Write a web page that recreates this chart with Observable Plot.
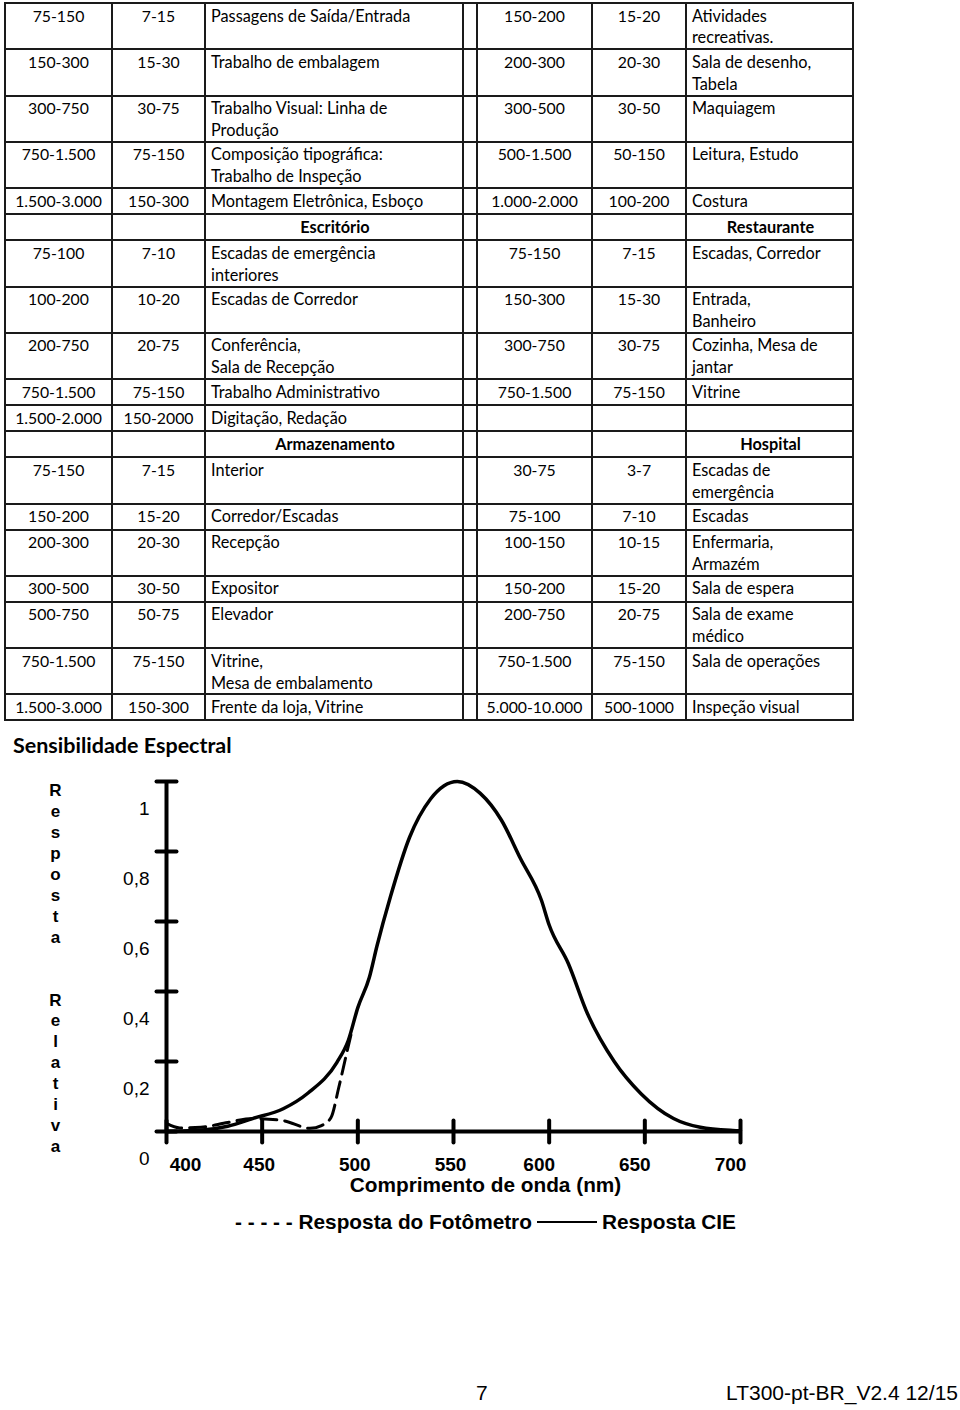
<!DOCTYPE html>
<html><head><meta charset="utf-8">
<script src="https://cdn.jsdelivr.net/npm/d3@7"></script>
<script src="https://cdn.jsdelivr.net/npm/@observablehq/plot@0.6"></script>
<style>
body{margin:0;background:#fff;}
#page{position:relative;width:960px;height:1410px;overflow:hidden;font-family:Lato,sans-serif;color:#000;background:#fff;}
table{position:absolute;left:4px;top:2px;border-collapse:collapse;table-layout:fixed;width:849px;font-size:16.3px;line-height:21.9px;}
tr{height:26px;}
td{border:2px solid #1a1a1a;padding:0.5px 3px 0 5px;vertical-align:top;white-space:pre-line;overflow:visible;}
td.n{text-align:center;padding-left:1px;padding-right:1px;font-size:15.8px;}
td.h{text-align:center;font-weight:bold;}
#title{position:absolute;left:13px;top:732px;font-family:Lato,sans-serif;font-weight:bold;font-size:21.5px;line-height:26px;}
#chart{position:absolute;left:0;top:760px;}
#legend{position:absolute;left:235px;top:1209px;font-family:"Liberation Sans",Arial,sans-serif;font-weight:bold;font-size:20.8px;line-height:26px;white-space:nowrap;}
#legend .ln{display:inline-block;width:60px;border-top:2px solid #000;vertical-align:middle;margin:0 5px 4px 5px;}
#pg{position:absolute;left:476px;top:1380px;font-family:"Liberation Sans",Arial,sans-serif;font-size:21px;line-height:26px;}
#doc{position:absolute;right:2px;top:1380px;font-family:"Liberation Sans",Arial,sans-serif;font-size:21px;line-height:26px;}
</style></head>
<body><div id="page">
<table id="tbl"><colgroup><col style="width:107px"><col style="width:93px"><col style="width:258px"><col style="width:14px"><col style="width:115px"><col style="width:94px"><col style="width:167px"></colgroup><tbody></tbody></table>
<div id="title">Sensibilidade Espectral</div>
<div id="chart"></div>
<div id="legend">- - - - - Resposta do Fotômetro<span class="ln"></span>Resposta CIE</div>
<div id="pg">7</div>
<div id="doc">LT300-pt-BR_V2.4 12/15</div>
</div>
<script>
// ---- Table data (lux, foot-candle, description); one-element rows are section headers
const leftRows = [
  ["75-150","7-15","Passagens de Saída/Entrada"],
  ["150-300","15-30","Trabalho de embalagem"],
  ["300-750","30-75","Trabalho Visual: Linha de\nProdução"],
  ["750-1.500","75-150","Composição tipográfica:\nTrabalho de Inspeção"],
  ["1.500-3.000","150-300","Montagem Eletrônica, Esboço"],
  ["Escritório"],
  ["75-100","7-10","Escadas de emergência\ninteriores"],
  ["100-200","10-20","Escadas de Corredor"],
  ["200-750","20-75","Conferência,\nSala de Recepção"],
  ["750-1.500","75-150","Trabalho Administrativo"],
  ["1.500-2.000","150-2000","Digitação, Redação"],
  ["Armazenamento"],
  ["75-150","7-15","Interior"],
  ["150-200","15-20","Corredor/Escadas"],
  ["200-300","20-30","Recepção"],
  ["300-500","30-50","Expositor"],
  ["500-750","50-75","Elevador"],
  ["750-1.500","75-150","Vitrine,\nMesa de embalamento"],
  ["1.500-3.000","150-300","Frente da loja, Vitrine"]
];
const rightRows = [
  ["150-200","15-20","Atividades\nrecreativas."],
  ["200-300","20-30","Sala de desenho,\nTabela"],
  ["300-500","30-50","Maquiagem"],
  ["500-1.500","50-150","Leitura, Estudo"],
  ["1.000-2.000","100-200","Costura"],
  ["Restaurante"],
  ["75-150","7-15","Escadas, Corredor"],
  ["150-300","15-30","Entrada,\nBanheiro"],
  ["300-750","30-75","Cozinha, Mesa de\njantar"],
  ["750-1.500","75-150","Vitrine"],
  ["","",""],
  ["Hospital"],
  ["30-75","3-7","Escadas de\nemergência"],
  ["75-100","7-10","Escadas"],
  ["100-150","10-15","Enfermaria,\nArmazém"],
  ["150-200","15-20","Sala de espera"],
  ["200-750","20-75","Sala de exame\nmédico"],
  ["750-1.500","75-150","Sala de operações"],
  ["5.000-10.000","500-1000","Inspeção visual"]
];

// ---- Chart data: spectral response
const cieNm  = [400, 420, 432, 445, 461, 474, 489, 495, 500, 506, 510, 517, 527, 538, 552, 564, 575, 585, 596, 600, 610, 620, 634, 648, 665, 679, 696, 700];
const cieVal = [0, 0.005, 0.015, 0.037, 0.065, 0.11, 0.197, 0.26, 0.354, 0.44, 0.53, 0.67, 0.84, 0.95, 1.0, 0.966, 0.89, 0.78, 0.66, 0.59, 0.48, 0.337, 0.20, 0.108, 0.037, 0.012, 0.003, 0.002];
const photoNm  = [400, 407, 418, 432, 445, 461, 475, 481, 486, 490, 494, 497];
const photoVal = [0.023, 0.01, 0.012, 0.026, 0.037, 0.031, 0.009, 0.017, 0.04, 0.125, 0.22, 0.29];
const xTicks = [400, 450, 500, 550, 600, 650, 700];
const yTicks = [0, 0.2, 0.4, 0.6, 0.8, 1];
const yAxisTitle = "Resposta  Relativa";
const xAxisTitle = "Comprimento de onda (nm)";

// ---- Build table
const tbody = document.querySelector("#tbl tbody");
function cells(row) {
  if (row.length === 1) return `<td></td><td></td><td class="h">${row[0]}</td>`;
  return `<td class="n">${row[0]}</td><td class="n">${row[1]}</td><td>${row[2]}</td>`;
}
leftRows.forEach((r, i) => {
  const tr = document.createElement("tr");
  tr.innerHTML = cells(r) + "<td></td>" + cells(rightRows[i]);
  tbody.appendChild(tr);
});

// ---- Chart
const cie = cieNm.map((x, i) => ({x, y: cieVal[i]}));
const photo = photoNm.map((x, i) => ({x, y: photoVal[i]}));
const crossTick = {draw(context, l) { context.moveTo(0, -l); context.lineTo(0, l); }};
const letters = yAxisTitle.split("").map(c => c === " " ? "" : c).join("\n");
const tickText = {tickSize: 0, tickPadding: 26, fontSize: 19, fontWeight: "bold", label: null};

const chart = Plot.plot({
  width: 960, height: 440,
  marginLeft: 166, marginRight: 220, marginTop: 21, marginBottom: 69,
  x: {domain: [400, 700]},
  y: {domain: [0, 1]},
  style: {fontFamily: "'Liberation Sans', Arial, sans-serif", color: "#000", background: "transparent", overflow: "visible"},
  marks: [
    Plot.ruleY([0], {stroke: "#000", strokeWidth: 4}),
    Plot.ruleX([400], {stroke: "#000", strokeWidth: 4}),
    Plot.vector(xTicks, {x: d => d, y: 0, length: 11, rotate: 0, anchor: "start", shape: crossTick, stroke: "#000", strokeWidth: 4}),
    Plot.vector(yTicks, {x: 400, y: d => d, length: 10, rotate: 90, anchor: "start", shape: crossTick, stroke: "#000", strokeWidth: 4}),
    Plot.axisX(xTicks.slice(0, 1), {...tickText, dx: 19}),
    Plot.axisX(xTicks.slice(1, 4), {...tickText, dx: -3}),
    Plot.axisX(xTicks.slice(4), {...tickText, dx: -10}),
    Plot.axisY(yTicks, {anchor: "left", tickSize: 0, tickPadding: 17, dy: 27, fontSize: 19, label: null, tickFormat: d => String(d).replace(".", ",")}),
    Plot.text([letters], {frameAnchor: "left", dx: -111, dy: 11, fontSize: 17, fontWeight: "bold", lineHeight: 1.23, textAnchor: "middle"}),
    Plot.text([xAxisTitle], {frameAnchor: "bottom", dx: 32, dy: 60, fontSize: 20.8, fontWeight: "bold"}),
    Plot.line(cie, {x: "x", y: "y", stroke: "#000", strokeWidth: 3.5, curve: "monotone-x"}),
    Plot.line(photo, {x: "x", y: "y", stroke: "#000", strokeWidth: 3, strokeDasharray: "16,8", curve: "monotone-x"})
  ]
});
document.getElementById("chart").appendChild(chart);
</script>
</body></html>
